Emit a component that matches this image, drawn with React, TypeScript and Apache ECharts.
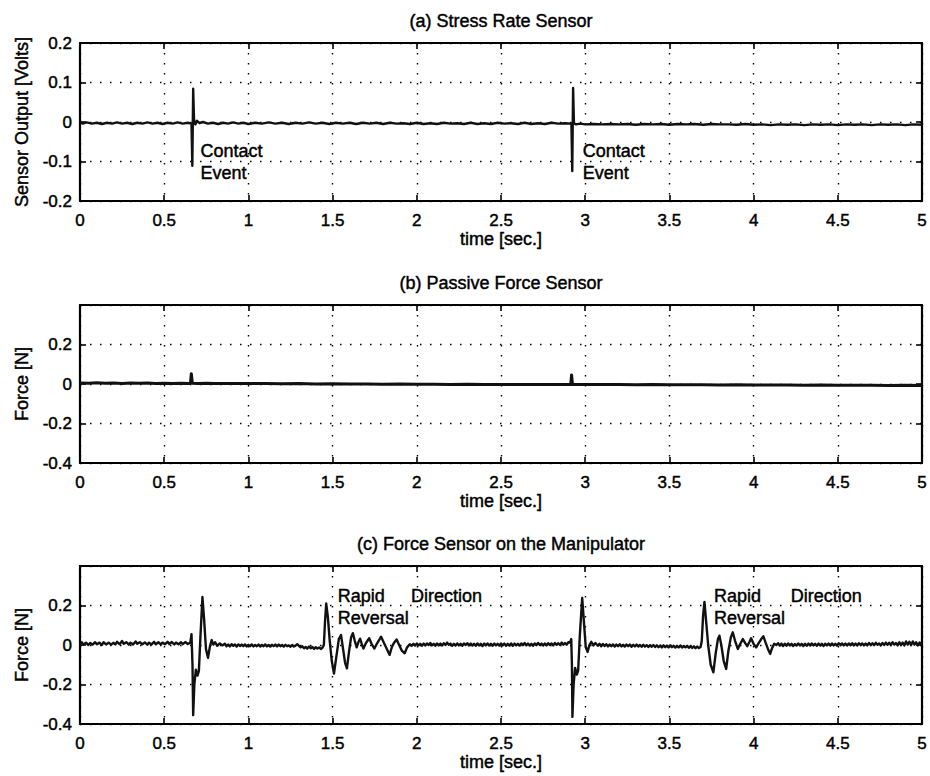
import React, { useEffect, useRef } from "react";
import * as echarts from "echarts";

const FONT = "'Liberation Sans', Arial, Helvetica, sans-serif";

const panelTitles = [
  "(a) Stress Rate Sensor",
  "(b) Passive Force Sensor",
  "(c) Force Sensor on the Manipulator",
];
const yAxisNames = ["Sensor Output [Volts]", "Force [N]", "Force [N]"];
const xAxisName = "time [sec.]";
const yMins = [-0.2, -0.4, -0.4];
const yMaxs = [0.2, 0.4, 0.4];
const yIntervals = [0.1, 0.2, 0.2];
const xMin = 0;
const xMax = 5;
const xInterval = 0.5;

// (a) stress rate sensor output [V] vs time [s]
const stressRate: [number, number][] = [
  [0, 0.002], [0.015, -0.004], [0.04, -0.001], [0.07, -0.004], [0.1, -0.002], [0.13, -0.005],
  [0.16, -0.002], [0.19, -0.004], [0.22, -0.001], [0.25, -0.004], [0.28, -0.002], [0.31, -0.005],
  [0.34, -0.002], [0.37, -0.004], [0.4, -0.001], [0.43, -0.004], [0.46, -0.002], [0.49, -0.005],
  [0.52, -0.002], [0.55, -0.004], [0.58, -0.001], [0.61, -0.004], [0.64, -0.002], [0.662, -0.004],
  [0.667, -0.111], [0.672, 0.084], [0.677, 0.006], [0.685, -0.006], [0.695, 0.003], [0.71, -0.003],
  [0.73, 0.0], [0.76, -0.004], [0.79, -0.002], [0.82, -0.005], [0.85, -0.002], [0.88, -0.004],
  [0.91, -0.001], [0.94, -0.004], [0.97, -0.002], [1.0, -0.005], [1.04, -0.002], [1.08, -0.004],
  [1.12, -0.001], [1.16, -0.004], [1.2, -0.002], [1.24, -0.005], [1.28, -0.002], [1.32, -0.004],
  [1.36, -0.001], [1.4, -0.004], [1.44, -0.002], [1.48, -0.005], [1.52, -0.002], [1.56, -0.004],
  [1.6, -0.002], [1.64, -0.005], [1.68, -0.002], [1.72, -0.004], [1.76, -0.002], [1.8, -0.005],
  [1.84, -0.002], [1.88, -0.004], [1.92, -0.003], [1.96, -0.005], [2.0, -0.002], [2.04, -0.005],
  [2.08, -0.003], [2.12, -0.005], [2.16, -0.002], [2.2, -0.004], [2.24, -0.003], [2.28, -0.005],
  [2.32, -0.002], [2.36, -0.005], [2.4, -0.003], [2.44, -0.005], [2.48, -0.002], [2.52, -0.004],
  [2.56, -0.003], [2.6, -0.005], [2.64, -0.002], [2.68, -0.005], [2.72, -0.003], [2.76, -0.005],
  [2.8, -0.002], [2.84, -0.004], [2.88, -0.003], [2.918, -0.004], [2.923, -0.124], [2.928, 0.086],
  [2.933, -0.003], [2.945, -0.006], [2.97, -0.004], [3.0, -0.006], [3.05, -0.005], [3.1, -0.006],
  [3.15, -0.005], [3.2, -0.006], [3.25, -0.005], [3.3, -0.007], [3.35, -0.005], [3.4, -0.006],
  [3.45, -0.005], [3.5, -0.007], [3.55, -0.005], [3.6, -0.006], [3.65, -0.005], [3.7, -0.007],
  [3.75, -0.005], [3.8, -0.006], [3.85, -0.006], [3.9, -0.007], [3.95, -0.005], [4.0, -0.007],
  [4.05, -0.006], [4.1, -0.008], [4.15, -0.006], [4.2, -0.007], [4.25, -0.006], [4.3, -0.008],
  [4.35, -0.006], [4.4, -0.007], [4.45, -0.006], [4.5, -0.008], [4.55, -0.006], [4.6, -0.007],
  [4.65, -0.006], [4.7, -0.008], [4.75, -0.006], [4.8, -0.007], [4.85, -0.006], [4.9, -0.008],
  [4.95, -0.006], [5, -0.007],
];

// (b) passive force sensor [N] vs time [s]
const passiveForce: [number, number][] = [
  [0, 0.005], [0.05, 0.004], [0.1, 0.006], [0.15, 0.004], [0.2, 0.005], [0.25, 0.003],
  [0.3, 0.005], [0.35, 0.004], [0.4, 0.005], [0.45, 0.003], [0.5, 0.004], [0.55, 0.003],
  [0.6, 0.004], [0.65, 0.003], [0.656, 0.006], [0.661, 0.052], [0.667, 0.004], [0.7, 0.003],
  [0.75, 0.004], [0.8, 0.002], [0.85, 0.003], [0.9, 0.002], [0.95, 0.003], [1.0, 0.002],
  [1.1, 0.002], [1.2, 0.001], [1.3, 0.002], [1.4, 0.0], [1.5, 0.001], [1.6, 0.0],
  [1.7, 0.0], [1.8, -0.001], [1.9, 0.0], [2.0, -0.001], [2.1, -0.001], [2.2, -0.002],
  [2.3, -0.001], [2.4, -0.002], [2.5, -0.002], [2.6, -0.002], [2.7, -0.003], [2.8, -0.002],
  [2.9, -0.003], [2.914, -0.002], [2.919, 0.046], [2.924, -0.002], [2.95, -0.003], [3.0, -0.002],
  [3.1, -0.003], [3.2, -0.003], [3.3, -0.004], [3.4, -0.003], [3.5, -0.004], [3.6, -0.004],
  [3.7, -0.004], [3.8, -0.005], [3.9, -0.004], [4.0, -0.005], [4.1, -0.005], [4.2, -0.005],
  [4.3, -0.006], [4.4, -0.005], [4.5, -0.006], [4.6, -0.006], [4.7, -0.006], [4.8, -0.007],
  [4.9, -0.006], [5, -0.007],
];

// (c) force sensor on the manipulator [N] vs time [s]
const manipulatorForce: [number, number][] = [
  [0, 0.005], [0.01, 0.014], [0.02, 0.002], [0.035, 0.012], [0.05, 0.0], [0.06, 0.01], [0.075, 0.002],
  [0.09, 0.014], [0.1, 0.004], [0.115, 0.012], [0.13, 0.0], [0.14, 0.014], [0.155, 0.003], [0.17, 0.012],
  [0.185, 0.002], [0.2, 0.011], [0.21, 0.003], [0.22, 0.016], [0.235, 0.004], [0.25, 0.02], [0.26, 0.006],
  [0.275, 0.014], [0.29, 0.002], [0.3, 0.012], [0.315, 0.003], [0.33, 0.018], [0.34, 0.006],
  [0.355, 0.014], [0.37, 0.004], [0.385, 0.013], [0.4, 0.002], [0.41, 0.012], [0.425, 0.003],
  [0.44, 0.016], [0.45, 0.004], [0.465, 0.014], [0.48, 0.003], [0.49, 0.012], [0.505, 0.004],
  [0.52, 0.016], [0.53, 0.005], [0.545, 0.015], [0.56, 0.003], [0.57, 0.012], [0.585, 0.004],
  [0.6, 0.014], [0.61, 0.004], [0.625, 0.015], [0.64, 0.005], [0.655, 0.012],
  [0.662, 0.055], [0.668, -0.1], [0.672, -0.355], [0.679, -0.2], [0.688, -0.125], [0.698, -0.155],
  [0.706, -0.13], [0.715, 0.04], [0.727, 0.243], [0.737, 0.13], [0.748, -0.02], [0.76, -0.065],
  [0.772, -0.005], [0.782, 0.025], [0.792, 0.002], [0.802, 0.014], [0.815, -0.004], [0.83, 0.008],
  [0.845, -0.002], [0.86, 0.006], [0.87, -0.006], [0.88, 0.002], [0.89, -0.007], [0.9, 0.004],
  [0.91, -0.004], [0.92, 0.003], [0.93, -0.008], [0.94, 0.003], [0.95, -0.005], [0.96, 0.002],
  [0.97, -0.006], [0.98, 0.003], [0.99, -0.007], [1.0, 0.001], [1.01, -0.006], [1.02, 0.003],
  [1.03, -0.007], [1.04, 0.0], [1.05, -0.006], [1.06, 0.002], [1.07, -0.008], [1.08, 0.0],
  [1.09, -0.006], [1.1, 0.003], [1.11, -0.007], [1.12, 0.0], [1.13, -0.008], [1.14, 0.001],
  [1.15, -0.006], [1.16, 0.002], [1.17, -0.007], [1.18, 0.002], [1.19, -0.006], [1.2, 0.0],
  [1.21, -0.008], [1.22, 0.001], [1.23, -0.006], [1.24, -0.002], [1.25, -0.009], [1.26, 0.0],
  [1.27, -0.008], [1.28, -0.003], [1.29, 0.004], [1.3, -0.004], [1.31, -0.012], [1.32, -0.006],
  [1.33, -0.016], [1.34, -0.01], [1.35, -0.018], [1.36, -0.008], [1.37, -0.016], [1.38, -0.01],
  [1.39, -0.02], [1.4, -0.011], [1.41, -0.018], [1.42, -0.012], [1.43, -0.02], [1.44, -0.013],
  [1.448, 0.0], [1.455, 0.12], [1.462, 0.21], [1.472, 0.14], [1.483, 0.02], [1.495, -0.08],
  [1.508, -0.145], [1.522, -0.06], [1.537, 0.03], [1.55, 0.05], [1.562, -0.02], [1.574, -0.09],
  [1.585, -0.118], [1.598, -0.03], [1.61, 0.04], [1.62, 0.06], [1.632, 0.02], [1.643, -0.012],
  [1.655, 0.018], [1.663, 0.032], [1.675, 0.0], [1.683, -0.018], [1.698, 0.01], [1.717, 0.034],
  [1.732, 0.005], [1.748, -0.018], [1.765, 0.01], [1.788, 0.042], [1.805, 0.01], [1.822, -0.02],
  [1.838, -0.05], [1.852, -0.01], [1.865, 0.012], [1.88, 0.028], [1.895, 0.0], [1.912, -0.03],
  [1.928, -0.042], [1.942, -0.012], [1.958, 0.004], [1.97, -0.004], [1.98, 0.006], [1.99, -0.003],
  [2.0, 0.008], [2.01, -0.002], [2.02, 0.006], [2.03, -0.004], [2.04, 0.007], [2.05, -0.003],
  [2.06, 0.008], [2.07, 0.0], [2.08, 0.01], [2.09, -0.002], [2.1, 0.006], [2.11, -0.004],
  [2.12, 0.008], [2.13, -0.002], [2.14, 0.007], [2.15, -0.003], [2.16, 0.009], [2.17, 0.0],
  [2.18, 0.012], [2.19, 0.001], [2.2, 0.007], [2.21, -0.004], [2.22, 0.006], [2.23, -0.003],
  [2.24, 0.008], [2.25, -0.002], [2.26, 0.006], [2.27, -0.004], [2.28, 0.008], [2.29, 0.0],
  [2.3, 0.009], [2.31, -0.002], [2.32, 0.007], [2.33, -0.003], [2.34, 0.006], [2.35, -0.004],
  [2.36, 0.008], [2.37, -0.002], [2.38, 0.006], [2.39, -0.005], [2.4, 0.007], [2.41, -0.002],
  [2.42, 0.008], [2.43, -0.003], [2.44, 0.006], [2.45, -0.004], [2.46, 0.007], [2.47, -0.002],
  [2.48, 0.006], [2.49, -0.003], [2.5, 0.008], [2.51, -0.002], [2.52, 0.007], [2.53, -0.004],
  [2.54, 0.006], [2.55, -0.003], [2.56, 0.008], [2.57, -0.004], [2.58, 0.007], [2.59, -0.002],
  [2.6, 0.006], [2.61, -0.003], [2.62, 0.008], [2.63, -0.001], [2.64, 0.01], [2.65, -0.002],
  [2.66, 0.007], [2.67, -0.003], [2.68, 0.006], [2.69, -0.004], [2.7, 0.008], [2.71, -0.001],
  [2.72, 0.01], [2.73, 0.0], [2.74, 0.007], [2.75, -0.003], [2.76, 0.008], [2.77, -0.002],
  [2.78, 0.009], [2.79, 0.0], [2.8, 0.008], [2.81, -0.002], [2.82, 0.01], [2.83, 0.001],
  [2.84, 0.009], [2.85, 0.0], [2.86, 0.012], [2.87, 0.002], [2.88, 0.01], [2.89, 0.002],
  [2.9, 0.014], [2.91, 0.012],
  [2.917, 0.03], [2.921, -0.1], [2.924, -0.364], [2.931, -0.2], [2.94, -0.116], [2.95, -0.15],
  [2.958, -0.13], [2.968, 0.05], [2.982, 0.238], [2.992, 0.12], [3.003, -0.01], [3.014, -0.035],
  [3.025, 0.0], [3.036, 0.016], [3.048, -0.002], [3.06, 0.01], [3.075, -0.004], [3.085, 0.006],
  [3.095, -0.006], [3.105, 0.005], [3.115, -0.005], [3.125, 0.004], [3.135, -0.007], [3.145, 0.002],
  [3.155, -0.006], [3.165, 0.003], [3.175, -0.008], [3.185, 0.002], [3.195, -0.006], [3.205, 0.004],
  [3.215, -0.007], [3.225, 0.001], [3.235, -0.008], [3.245, 0.002], [3.255, -0.006], [3.265, 0.002],
  [3.275, -0.009], [3.285, 0.001], [3.295, -0.007], [3.305, 0.002], [3.315, -0.008], [3.325, 0.0],
  [3.335, -0.009], [3.345, 0.001], [3.355, -0.008], [3.365, -0.001], [3.375, -0.01], [3.385, -0.001],
  [3.395, -0.009], [3.405, 0.0], [3.415, -0.01], [3.425, -0.002], [3.435, -0.011], [3.445, -0.003],
  [3.455, -0.012], [3.465, -0.002], [3.475, -0.011], [3.485, -0.003], [3.495, -0.012], [3.505, -0.002],
  [3.515, -0.011], [3.525, -0.004], [3.535, -0.013], [3.545, -0.004], [3.555, -0.012], [3.565, -0.003],
  [3.575, -0.013], [3.585, -0.005], [3.595, -0.012], [3.605, -0.004], [3.615, -0.014], [3.625, -0.006],
  [3.635, -0.015], [3.645, -0.007], [3.655, -0.016], [3.665, -0.008], [3.675, -0.015], [3.685, -0.01],
  [3.692, 0.02], [3.7, 0.15], [3.708, 0.218], [3.718, 0.12], [3.73, 0.0], [3.745, -0.1],
  [3.761, -0.138], [3.775, -0.04], [3.788, 0.03], [3.797, 0.047], [3.808, 0.0], [3.822, -0.08],
  [3.837, -0.121], [3.85, -0.03], [3.865, 0.04], [3.876, 0.064], [3.89, 0.02], [3.906, -0.02],
  [3.92, 0.005], [3.936, 0.03], [3.95, 0.01], [3.962, -0.006], [3.975, 0.015], [3.985, 0.034],
  [4.0, 0.005], [4.015, -0.012], [4.03, 0.01], [4.045, 0.03], [4.058, 0.044], [4.072, 0.01],
  [4.085, -0.02], [4.098, -0.045], [4.11, -0.015], [4.122, 0.006], [4.135, 0.0], [4.145, 0.009],
  [4.155, -0.003], [4.165, 0.007], [4.175, -0.005], [4.185, 0.006], [4.195, -0.004], [4.205, 0.008],
  [4.215, -0.002], [4.225, 0.006], [4.235, -0.005], [4.245, 0.005], [4.255, -0.003], [4.265, 0.008],
  [4.275, -0.002], [4.285, 0.006], [4.295, -0.005], [4.305, 0.006], [4.315, -0.004], [4.325, 0.007],
  [4.335, -0.003], [4.345, 0.008], [4.355, -0.002], [4.365, 0.006], [4.375, -0.004], [4.385, 0.007],
  [4.395, -0.003], [4.405, 0.006], [4.415, -0.005], [4.425, 0.006], [4.435, -0.002], [4.445, 0.007],
  [4.455, -0.003], [4.465, 0.008], [4.475, -0.002], [4.485, 0.006], [4.495, -0.003], [4.505, 0.009],
  [4.515, 0.0], [4.525, 0.008], [4.535, -0.002], [4.545, 0.007], [4.555, -0.003], [4.565, 0.008],
  [4.575, -0.001], [4.585, 0.009], [4.595, -0.002], [4.605, 0.007], [4.615, -0.003], [4.625, 0.009],
  [4.635, 0.0], [4.645, 0.008], [4.655, -0.002], [4.665, 0.007], [4.675, -0.002], [4.685, 0.01],
  [4.695, 0.0], [4.705, 0.009], [4.715, -0.001], [4.725, 0.011], [4.735, 0.001], [4.745, 0.008],
  [4.755, -0.002], [4.765, 0.01], [4.775, 0.0], [4.785, 0.012], [4.795, 0.001], [4.805, 0.011],
  [4.815, 0.0], [4.825, 0.014], [4.835, 0.002], [4.845, 0.01], [4.855, -0.002], [4.865, 0.014],
  [4.875, 0.0], [4.885, 0.012], [4.895, -0.002], [4.905, 0.018], [4.915, 0.002], [4.925, 0.016],
  [4.935, 0.0], [4.945, 0.018], [4.955, 0.002], [4.965, 0.014], [4.975, -0.002], [4.985, 0.012],
  [5, 0.004],
];

const panelData = [stressRate, passiveForce, manipulatorForce];
const lineWidths = [2.4, 3, 2.4];

// annotations: panel index, text, anchor (time, value) of left-middle of the text block
const annotations = [
  { panel: 0, text: "Contact\nEvent", t: 0.715, v: -0.1 },
  { panel: 0, text: "Contact\nEvent", t: 2.985, v: -0.1 },
  { panel: 2, text: "Rapid\nReversal", t: 1.53, v: 0.19 },
  { panel: 2, text: "Direction", t: 1.965, v: 0.25 },
  { panel: 2, text: "Rapid\nReversal", t: 3.765, v: 0.193 },
  { panel: 2, text: "Direction", t: 4.22, v: 0.25 },
];

const gridTops = [43, 305, 566];
const GRID_LEFT = 80;
const GRID_RIGHT = 3;
const GRID_HEIGHT = 158;

const fmt = (v: number) => String(Number(v.toFixed(2)));
const INK = { textBorderColor: "#000", textBorderWidth: 0.45 };

export default function App() {
  const ref = useRef<HTMLDivElement>(null);

  useEffect(() => {
    if (!ref.current) return;
    const chart = echarts.init(ref.current, undefined, { renderer: "svg" });

    const grid: any[] = [];
    const xAxis: any[] = [];
    const yAxis: any[] = [];
    const series: any[] = [];

    const frameLine = { show: true, onZero: false, lineStyle: { color: "#000", width: 2.2 } };
    const tick = { show: true, inside: true, length: 6, lineStyle: { color: "#000", width: 1.6 } };
    const dotted = { show: true, lineStyle: { color: "#000", width: 1.4, type: [1.5, 8.5] } };

    for (let i = 0; i < 3; i++) {
      grid.push({ left: GRID_LEFT, right: GRID_RIGHT, top: gridTops[i], height: GRID_HEIGHT, containLabel: false });
      xAxis.push({
        type: "value", gridIndex: i, position: "bottom", min: xMin, max: xMax, interval: xInterval,
        axisLine: frameLine, axisTick: tick, splitLine: dotted,
        axisLabel: { color: "#000", fontSize: 17, fontFamily: FONT, margin: 11, formatter: fmt, ...INK },
        name: xAxisName, nameLocation: "middle", nameGap: 29,
        nameTextStyle: { color: "#000", fontSize: 18, fontFamily: FONT, ...INK },
      });
      xAxis.push({
        type: "value", gridIndex: i, position: "top", min: xMin, max: xMax, interval: xInterval,
        axisLine: frameLine, axisTick: tick, splitLine: { show: false }, axisLabel: { show: false },
      });
      const top = yMaxs[i];
      yAxis.push({
        type: "value", gridIndex: i, position: "left", min: yMins[i], max: yMaxs[i], interval: yIntervals[i],
        axisLine: frameLine, axisTick: tick, splitLine: dotted,
        axisLabel: {
          color: "#000", fontSize: 17, fontFamily: FONT, margin: 8, ...INK,
          formatter: (v: number) => (i > 0 && Math.abs(v - top) < 1e-9 ? "" : fmt(v)),
        },
        name: yAxisNames[i], nameLocation: "middle", nameGap: 48, nameRotate: 90,
        nameTextStyle: { color: "#000", fontSize: 18, fontFamily: FONT, ...INK },
      });
      yAxis.push({
        type: "value", gridIndex: i, position: "right", min: yMins[i], max: yMaxs[i], interval: yIntervals[i],
        axisLine: frameLine, axisTick: tick, splitLine: { show: false }, axisLabel: { show: false },
      });
      series.push({
        type: "line", xAxisIndex: 2 * i, yAxisIndex: 2 * i, data: panelData[i],
        showSymbol: false, symbol: "none", silent: true,
        lineStyle: { color: "#111", width: lineWidths[i], join: "round" }, z: 3,
      });
    }

    chart.setOption({
      animation: false,
      backgroundColor: "#fff",
      textStyle: { fontFamily: FONT },
      grid, xAxis, yAxis, series,
    });

    const graphic: any[] = [];
    for (let i = 0; i < 3; i++) {
      const p = chart.convertToPixel({ xAxisIndex: 2 * i, yAxisIndex: 2 * i }, [(xMin + xMax) / 2, yMaxs[i]]) as number[];
      graphic.push({
        type: "text", x: p[0], y: p[1] - 22, silent: true,
        style: { text: panelTitles[i], fill: "#000", fontSize: 18, fontFamily: FONT, align: "center", verticalAlign: "middle", stroke: "#000", lineWidth: 0.45 },
      });
    }
    for (const a of annotations) {
      const p = chart.convertToPixel({ xAxisIndex: 2 * a.panel, yAxisIndex: 2 * a.panel }, [a.t, a.v]) as number[];
      graphic.push({
        type: "text", x: p[0], y: p[1], silent: true, z: 10,
        style: { text: a.text, fill: "#000", fontSize: 18, fontFamily: FONT, align: "left", verticalAlign: "middle", lineHeight: 22, stroke: "#000", lineWidth: 0.45 },
      });
    }
    chart.setOption({ graphic });

    return () => chart.dispose();
  }, []);

  return (
    <div
      ref={ref}
      style={{ position: "fixed", left: 0, top: 0, width: 930, height: 776, background: "#fff" }}
    />
  );
}
